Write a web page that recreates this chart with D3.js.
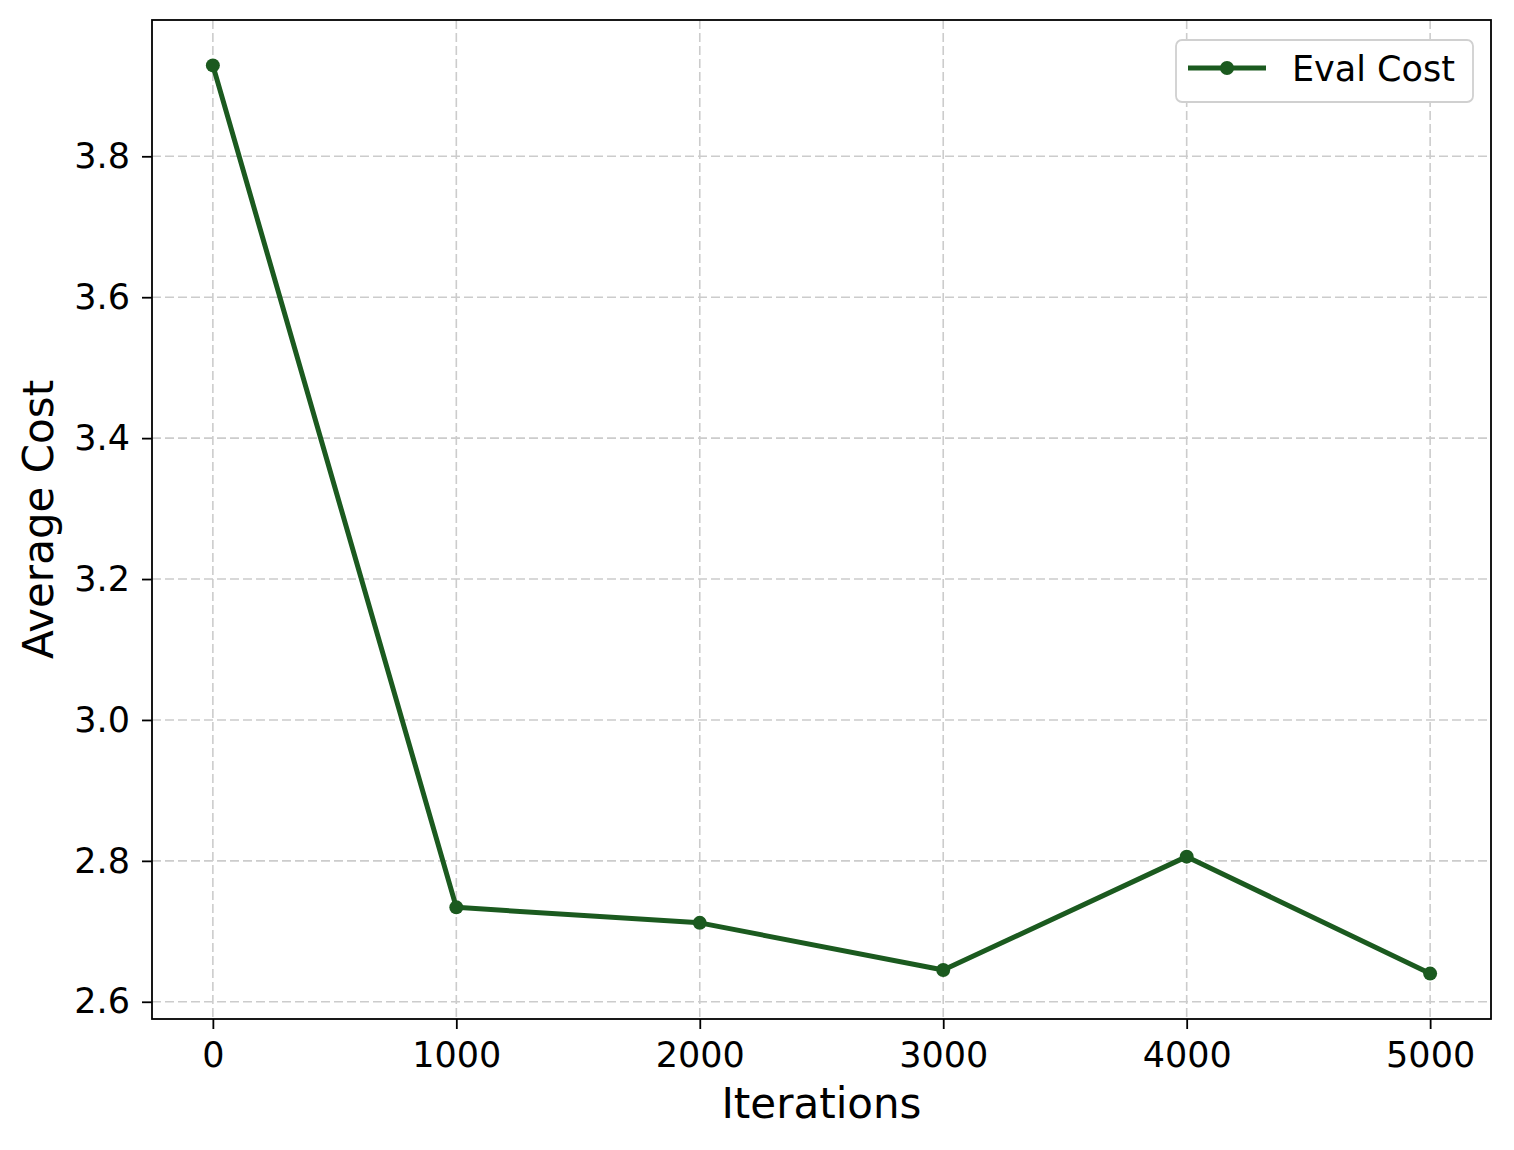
<!DOCTYPE html>
<html>
<head>
<meta charset="utf-8">
<script src="https://cdn.jsdelivr.net/npm/d3@7"></script>
<style>
  body { margin: 0; background: #fff; }
  text { font-family: "DejaVu Sans", sans-serif; fill: #000; }
</style>
</head>
<body>
<div id="chart"></div>
<script>
// Data
const iterations = [0, 1000, 2000, 3000, 4000, 5000];
const evalCost = [3.929, 2.734, 2.712, 2.645, 2.806, 2.640];
const xTicks = [0, 1000, 2000, 3000, 4000, 5000];
const yTicks = [2.6, 2.8, 3.0, 3.2, 3.4, 3.6, 3.8];
const seriesName = "Eval Cost";
const lineColor = "#1b5a1f";

// Setup SVG dimensions and margins
let margin = { top: 20, right: 23, bottom: 131, left: 152 },
    width = 1514 - margin.left - margin.right,
    height = 1150 - margin.top - margin.bottom;

let svg = d3.select("#chart").append("svg")
    .attr("width", 1514)
    .attr("height", 1150)
    .append("g")
    .attr("transform", `translate(${margin.left}, ${margin.top})`);

// Scales with matplotlib-like 5% padding
let xPad = (d3.max(iterations) - d3.min(iterations)) * 0.05;
let x = d3.scaleLinear()
    .domain([d3.min(iterations) - xPad, d3.max(iterations) + xPad])
    .range([0, width]);
let yPad = (d3.max(evalCost) - d3.min(evalCost)) * 0.05;
let y = d3.scaleLinear()
    .domain([d3.min(evalCost) - yPad, d3.max(evalCost) + yPad])
    .range([height, 0]);

// Grid lines
let grid = svg.append("g").attr("class", "grid");
xTicks.forEach(t => {
    grid.append("line")
        .attr("x1", x(t)).attr("x2", x(t))
        .attr("y1", 0).attr("y2", height)
        .attr("stroke", "#cccccc")
        .attr("stroke-width", 1.6)
        .attr("stroke-dasharray", "9,4");
});
yTicks.forEach(t => {
    grid.append("line")
        .attr("x1", 0).attr("x2", width)
        .attr("y1", y(t)).attr("y2", y(t))
        .attr("stroke", "#cccccc")
        .attr("stroke-width", 1.6)
        .attr("stroke-dasharray", "9,4");
});

// Axes
let xAxis = svg.append("g")
    .attr("transform", `translate(0, ${height})`)
    .call(d3.axisBottom(x).tickValues(xTicks).tickSize(10).tickPadding(13).tickFormat(d3.format("d")));
let yAxis = svg.append("g")
    .call(d3.axisLeft(y).tickValues(yTicks).tickSize(10).tickPadding(12).tickFormat(d3.format(".1f")));
[xAxis, yAxis].forEach(a => {
    a.select(".domain").remove();
    a.selectAll(".tick line").attr("stroke", "#000").attr("stroke-width", 1.8);
    a.selectAll(".tick text")
        .style("font-family", "DejaVu Sans, sans-serif")
        .style("font-size", "35px")
        .attr("fill", "#000");
});

// Frame
svg.append("rect")
    .attr("x", 0).attr("y", 0)
    .attr("width", width).attr("height", height)
    .attr("fill", "none")
    .attr("stroke", "#000")
    .attr("stroke-width", 1.8);

// Axis labels
svg.append("text")
    .attr("x", width / 2)
    .attr("y", height + 99)
    .attr("text-anchor", "middle")
    .style("font-size", "42px")
    .text("Iterations");
svg.append("text")
    .attr("transform", `translate(${-99}, ${height / 2}) rotate(-90)`)
    .attr("text-anchor", "middle")
    .style("font-size", "42px")
    .text("Average Cost");

// Line and markers
let points = iterations.map((d, i) => ({ x: d, y: evalCost[i] }));
svg.append("path")
    .datum(points)
    .attr("d", d3.line().x(d => x(d.x)).y(d => y(d.y)))
    .attr("fill", "none")
    .attr("stroke", lineColor)
    .attr("stroke-width", 5)
    .attr("stroke-linejoin", "round");
svg.selectAll(".pt")
    .data(points)
    .enter().append("circle")
    .attr("class", "pt")
    .attr("cx", d => x(d.x))
    .attr("cy", d => y(d.y))
    .attr("r", 7)
    .attr("fill", lineColor);

// Legend
let lg = svg.append("g").attr("transform", `translate(${width - 315}, 20)`);
lg.append("rect")
    .attr("width", 297).attr("height", 62)
    .attr("rx", 6).attr("ry", 6)
    .attr("fill", "#fff")
    .attr("stroke", "#d0d0d0")
    .attr("stroke-width", 1.8);
lg.append("line")
    .attr("x1", 12).attr("x2", 90)
    .attr("y1", 28).attr("y2", 28)
    .attr("stroke", lineColor)
    .attr("stroke-width", 5);
lg.append("circle")
    .attr("cx", 51).attr("cy", 28).attr("r", 7)
    .attr("fill", lineColor);
lg.append("text")
    .attr("x", 116).attr("y", 41)
    .style("font-size", "35px")
    .text(seriesName);
</script>
</body>
</html>
